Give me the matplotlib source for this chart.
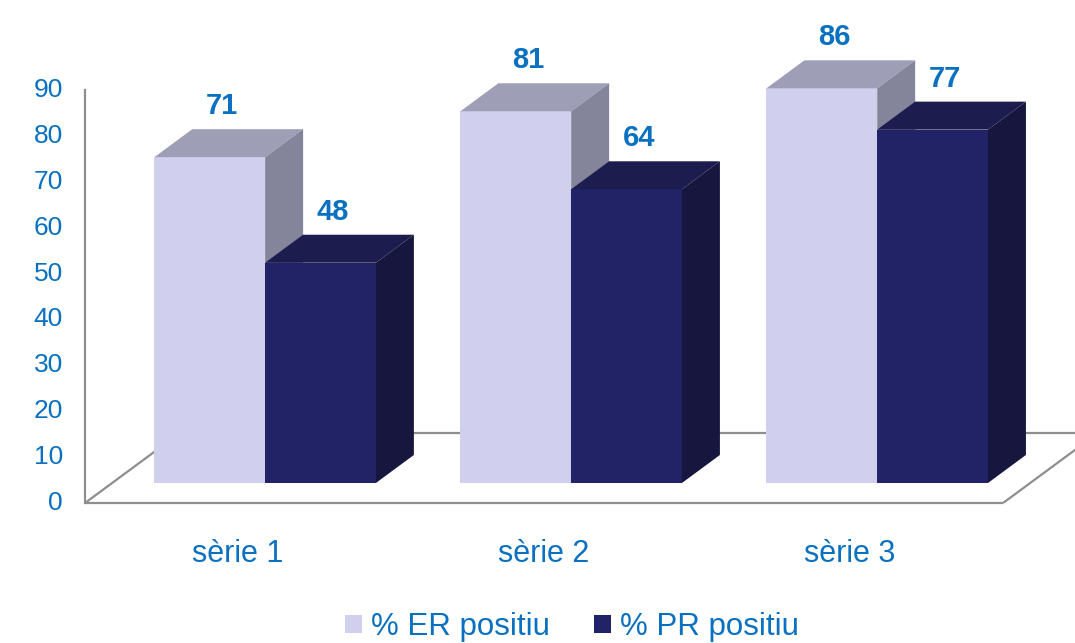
import numpy as np
import matplotlib
matplotlib.use("Agg")
from matplotlib import pyplot as plt
from matplotlib.patches import Polygon, Patch
from matplotlib.transforms import offset_copy

plt.rcParams['font.family'] = ['Liberation Sans', 'DejaVu Sans']

categories = ['sèrie 1', 'sèrie 2', 'sèrie 3']
series_names = ['% ER positiu', '% PR positiu']
er_values = [71, 81, 86]
pr_values = [48, 64, 77]
yticks = [0, 10, 20, 30, 40, 50, 60, 70, 80, 90]

text_blue = '#0A70C0'
grid_gray = '#8E8E8E'
# front, top, side colours for each series
er_cols = ('#D0D0EE', '#9E9EB6', '#84849A')
pr_cols = ('#222266', '#1C1C4E', '#16163E')

# oblique "3d" depth vector (full floor depth), in data units
DX, DY = 0.31, 15.25
Z0, Z1 = 0.286, 0.686     # bars sit between these depth fractions
BAR_W = 0.362

def proj(x, y, z):
    return (x + z * DX, y + z * DY)

fig = plt.figure(figsize=(10.75, 6.43), dpi=100)
ax = fig.add_axes([0, 0, 1, 1])
ax.set_xlim(-0.7778, 2.735)
ax.set_ylim(-30.51, 109.61)
ax.axis('off')

# floor and axis lines
x0, x1 = -0.5, len(categories) - 0.5
floor = [
    [proj(x0, 0, 0), proj(x1, 0, 0)],
    [proj(x1, 0, 0), proj(x1, 0, 1)],
    [proj(x0, 0, 1), proj(x1 + 0.2, 0, 1)],
    [proj(x0, 0, 0), proj(x0, 0, 1)],
]
for seg in floor:
    xs, ys = zip(*seg)
    ax.plot(xs, ys, color=grid_gray, lw=1.6, solid_capstyle='butt', zorder=1)
ax.plot([x0, x0], [0, yticks[-1]], color=grid_gray, lw=1.6, zorder=1)

tick_tr = offset_copy(ax.transData, fig=fig, x=-16, y=0, units='points')
for t in yticks:
    ax.text(x0, t, str(t), transform=tick_tr, ha='right', va='center',
            fontsize=19, color=text_blue)

def draw_bar(xl, val, cols, z):
    xr = xl + BAR_W
    front = [proj(xl, 0, Z0), proj(xr, 0, Z0), proj(xr, val, Z0), proj(xl, val, Z0)]
    top = [proj(xl, val, Z0), proj(xr, val, Z0), proj(xr, val, Z1), proj(xl, val, Z1)]
    side = [proj(xr, 0, Z0), proj(xr, 0, Z1), proj(xr, val, Z1), proj(xr, val, Z0)]
    ax.add_patch(Polygon(front, closed=True, fc=cols[0], ec='none', zorder=z))
    ax.add_patch(Polygon(top, closed=True, fc=cols[1], ec='none', zorder=z))
    ax.add_patch(Polygon(side, closed=True, fc=cols[2], ec='none', zorder=z))

lab_tr = offset_copy(ax.transData, fig=fig, x=0, y=30, units='points')
z = 2
for i in range(len(categories)):
    for k, (vals, cols) in enumerate([(er_values, er_cols), (pr_values, pr_cols)]):
        xl = i - BAR_W + k * BAR_W
        draw_bar(xl, vals[i], cols, z)
        z += 1
        lx, ly = proj(xl + BAR_W / 2, vals[i], Z0 + 0.33 * (Z1 - Z0))
        ax.text(lx, ly, str(vals[i]), transform=lab_tr, ha='center', va='center',
                fontsize=21, fontweight='bold', color=text_blue, zorder=20)

cat_tr = offset_copy(ax.transData, fig=fig, x=0, y=-37, units='points')
for i, c in enumerate(categories):
    ax.text(i, 0, c, transform=cat_tr, ha='center', va='center',
            fontsize=22, color=text_blue)

handles = [Patch(fc=er_cols[0], ec='none'), Patch(fc=pr_cols[0], ec='none')]
leg = fig.legend(handles, series_names, loc='center', bbox_to_anchor=(572 / 1075, 1 - 627 / 643),
                 ncol=2, frameon=False, fontsize=22.5, handlelength=0.55, handleheight=0.55,
                 handletextpad=0.3, columnspacing=1.4)
for t in leg.get_texts():
    t.set_color(text_blue)

fig.savefig('out.png', dpi=100)
